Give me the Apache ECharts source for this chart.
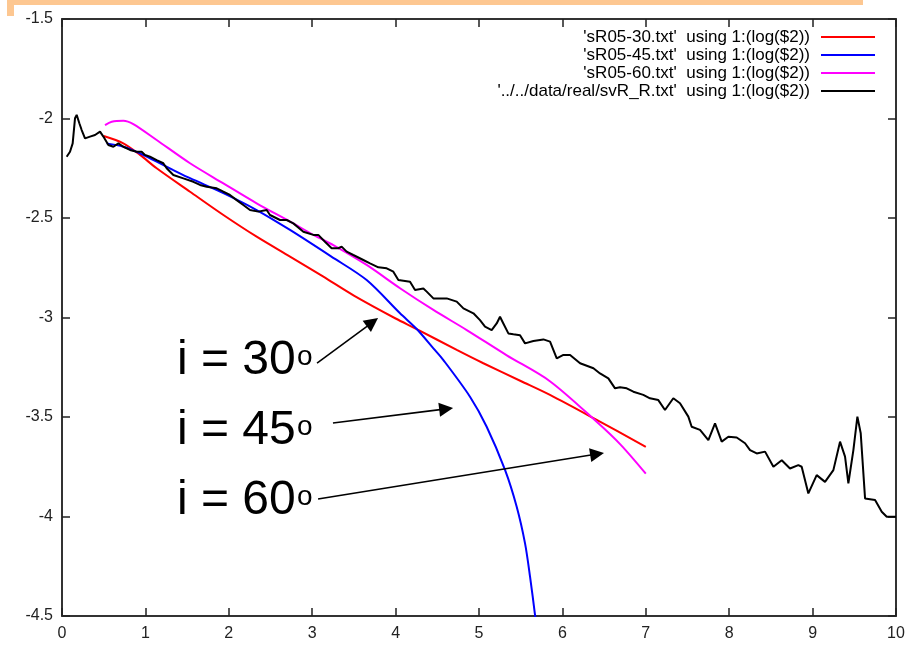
<!DOCTYPE html>
<html>
<head>
<meta charset="utf-8">
<script src="https://cdn.jsdelivr.net/npm/echarts@6/dist/echarts.min.js"></script>
<style>
html, body { margin: 0; padding: 0; background: #fff; }
#main { width: 908px; height: 647px; }
</style>
</head>
<body>
<div id="main"></div>
<script>
// legend names (gnuplot style)
var seriesNames = [
    "'sR05-30.txt'  using 1:(log($2))",
    "'sR05-45.txt'  using 1:(log($2))",
    "'sR05-60.txt'  using 1:(log($2))",
    "'../../data/real/svR_R.txt'  using 1:(log($2))"
];
var seriesColors = ['#ff0000', '#0000ff', '#ff00ff', '#000000'];

// i = 30
var fit30 = [
    [0.50, -2.088], [0.735, -2.125], [0.935, -2.183], [1.135, -2.250], [1.535, -2.368],
    [1.935, -2.485], [2.334, -2.594], [2.734, -2.694], [3.134, -2.795], [3.50, -2.890],
    [4.00, -3.005], [4.253, -3.058], [4.733, -3.163], [5.052, -3.230], [5.50, -3.319],
    [5.851, -3.389], [6.40, -3.512], [7.00, -3.650]
];
// i = 45
var fit45 = [
    [0.535, -2.125], [0.735, -2.142], [0.935, -2.175], [1.135, -2.217], [1.335, -2.259],
    [1.535, -2.300], [1.935, -2.375], [2.334, -2.460], [2.734, -2.560], [3.23, -2.694],
    [3.653, -2.812], [4.053, -2.979], [4.253, -3.058], [4.453, -3.155], [4.573, -3.214],
    [4.892, -3.398], [5.092, -3.549], [5.312, -3.766], [5.452, -3.951], [5.552, -4.135],
    [5.612, -4.302], [5.672, -4.495], [5.70, -4.60]
];
// i = 60
var fit60 = [
    [0.516, -2.033], [0.596, -2.016], [0.735, -2.011], [0.855, -2.028], [1.135, -2.108],
    [1.535, -2.225], [1.935, -2.326], [2.334, -2.426], [2.734, -2.518], [3.054, -2.594],
    [3.253, -2.636], [3.653, -2.736], [4.053, -2.853], [4.453, -2.962], [4.853, -3.063],
    [5.333, -3.190], [5.85, -3.320], [6.411, -3.524], [6.70, -3.640], [7.00, -3.785]
];
// measured data
var realData = [
    [0.056, -2.192], [0.096, -2.167], [0.128, -2.125], [0.156, -1.999], [0.176, -1.982],
    [0.208, -2.024], [0.236, -2.058], [0.276, -2.100], [0.336, -2.091], [0.396, -2.083],
    [0.456, -2.066], [0.496, -2.091], [0.556, -2.133], [0.616, -2.142], [0.676, -2.125],
    [0.736, -2.142], [0.815, -2.158], [0.895, -2.167], [0.955, -2.167], [0.995, -2.183],
    [1.055, -2.192], [1.135, -2.209], [1.215, -2.225], [1.255, -2.250], [1.335, -2.284],
    [1.455, -2.301], [1.575, -2.318], [1.655, -2.334], [1.735, -2.343], [1.855, -2.351],
    [1.935, -2.368], [2.014, -2.384], [2.094, -2.410], [2.174, -2.435], [2.254, -2.460],
    [2.354, -2.468], [2.454, -2.460], [2.494, -2.485], [2.614, -2.510], [2.694, -2.510],
    [2.774, -2.527], [2.894, -2.569], [3.014, -2.585], [3.073, -2.585], [3.153, -2.619],
    [3.233, -2.652], [3.313, -2.652], [3.353, -2.644], [3.413, -2.669], [3.493, -2.686],
    [3.613, -2.711], [3.693, -2.728], [3.793, -2.748], [3.893, -2.753], [3.973, -2.770],
    [4.033, -2.812], [4.173, -2.820], [4.233, -2.862], [4.333, -2.854], [4.373, -2.870],
    [4.453, -2.904], [4.613, -2.904], [4.733, -2.920], [4.813, -2.954], [4.933, -2.979],
    [5.012, -3.013], [5.072, -3.046], [5.152, -3.063], [5.212, -3.030], [5.252, -2.996],
    [5.292, -3.030], [5.352, -3.080], [5.412, -3.084], [5.492, -3.089], [5.552, -3.130],
    [5.652, -3.118], [5.772, -3.110], [5.852, -3.121], [5.932, -3.205], [6.012, -3.188],
    [6.092, -3.188], [6.212, -3.230], [6.372, -3.255], [6.451, -3.281], [6.551, -3.306],
    [6.631, -3.356], [6.691, -3.351], [6.771, -3.356], [6.851, -3.373], [6.970, -3.389],
    [7.050, -3.406], [7.150, -3.415], [7.230, -3.465], [7.330, -3.406], [7.410, -3.431],
    [7.510, -3.498], [7.550, -3.549], [7.650, -3.565], [7.750, -3.616], [7.830, -3.532],
    [7.910, -3.624], [7.990, -3.599], [8.090, -3.603], [8.190, -3.632], [8.250, -3.666],
    [8.330, -3.683], [8.430, -3.674], [8.530, -3.750], [8.630, -3.717], [8.729, -3.759],
    [8.829, -3.742], [8.869, -3.750], [8.949, -3.884], [9.049, -3.792], [9.149, -3.826],
    [9.249, -3.767], [9.329, -3.624], [9.389, -3.699], [9.429, -3.833], [9.489, -3.666],
    [9.537, -3.498], [9.577, -3.582], [9.629, -3.909], [9.749, -3.917], [9.829, -3.976],
    [9.889, -4.001], [9.989, -4.001], [10.0, -4.001]
];

// annotations: text + arrow (start, end) in data units
var angleLabels = ['i = 30', 'i = 45', 'i = 60'];
var arrows = [
    [[3.058, -3.229], [3.722, -3.024]],
    [[3.249, -3.530], [4.606, -3.459]],
    [[3.070, -3.912], [6.416, -3.686]]
];

var font = 'Liberation Sans, Arial, Helvetica, sans-serif';
var myChart = echarts.init(document.getElementById('main'));

function frameAxis(pos, isX, showLabel) {
    var ax = {
        type: 'value',
        position: pos,
        min: isX ? 0 : -4.5,
        max: isX ? 10 : -1.5,
        interval: isX ? 1 : 0.5,
        axisLine: { show: true, onZero: false, lineStyle: { color: '#333', width: 2 } },
        axisTick: { show: true, inside: true, length: 8, lineStyle: { color: '#222', width: 1.5 } },
        splitLine: { show: false },
        axisLabel: {
            show: showLabel,
            color: '#222',
            fontFamily: font,
            fontSize: 16,
            margin: isX ? 10 : 9
        }
    };
    return ax;
}

var series = [];
var allData = [fit30, fit45, fit60, realData];
for (var i = 0; i < allData.length; i++) {
    series.push({
        name: seriesNames[i],
        type: 'line',
        data: allData[i],
        symbol: 'none',
        smooth: i < 3 ? 0.3 : false,
        clip: true,
        lineStyle: { color: seriesColors[i], width: 2 },
        itemStyle: { color: seriesColors[i] },
        z: 2 + i
    });
}
// arrows
series.push({
    name: 'arrows',
    type: 'line',
    data: [],
    symbol: 'none',
    markLine: {
        silent: true,
        animation: false,
        symbol: ['none', 'triangle'],
        symbolSize: 14,
        label: { show: false },
        lineStyle: { color: '#000', width: 1.6, type: 'solid' },
        data: arrows.map(function (a) {
            return [{ coord: a[0] }, { coord: a[1] }];
        })
    },
    z: 10
});

var graphics = [
    { type: 'rect', shape: { x: 7, y: 0, width: 856, height: 5 }, style: { fill: '#fdc791' } },
    { type: 'rect', shape: { x: 7, y: 0, width: 7, height: 16 }, style: { fill: '#fdc791' } }
];
angleLabels.forEach(function (t, k) {
    graphics.push({
        type: 'text', left: 177, top: 337 + k * 70,
        style: { text: t, font: '48px ' + font, fill: '#000' }
    });
    graphics.push({
        type: 'text', left: 297, top: 343 + k * 70,
        style: { text: 'o', font: '28px ' + font, fill: '#000' }
    });
});

var option = {
    animation: false,
    backgroundColor: '#fff',
    grid: { left: 62, right: 12, top: 19, bottom: 31 },
    legend: {
        data: seriesNames.map(function (n) {
            return { name: n, icon: 'rect' };
        }),
        orient: 'vertical',
        right: 33,
        top: 28,
        align: 'right',
        padding: 0,
        itemGap: 0,
        itemWidth: 54,
        itemHeight: 2,
        textStyle: { fontFamily: font, fontSize: 17, color: '#000', lineHeight: 18, padding: [0, 6, 0, 0] }
    },
    xAxis: [frameAxis('bottom', true, true), frameAxis('top', true, false)],
    yAxis: [frameAxis('left', false, true), frameAxis('right', false, false)],
    graphic: graphics,
    series: series
};
myChart.setOption(option);
</script>
</body>
</html>
